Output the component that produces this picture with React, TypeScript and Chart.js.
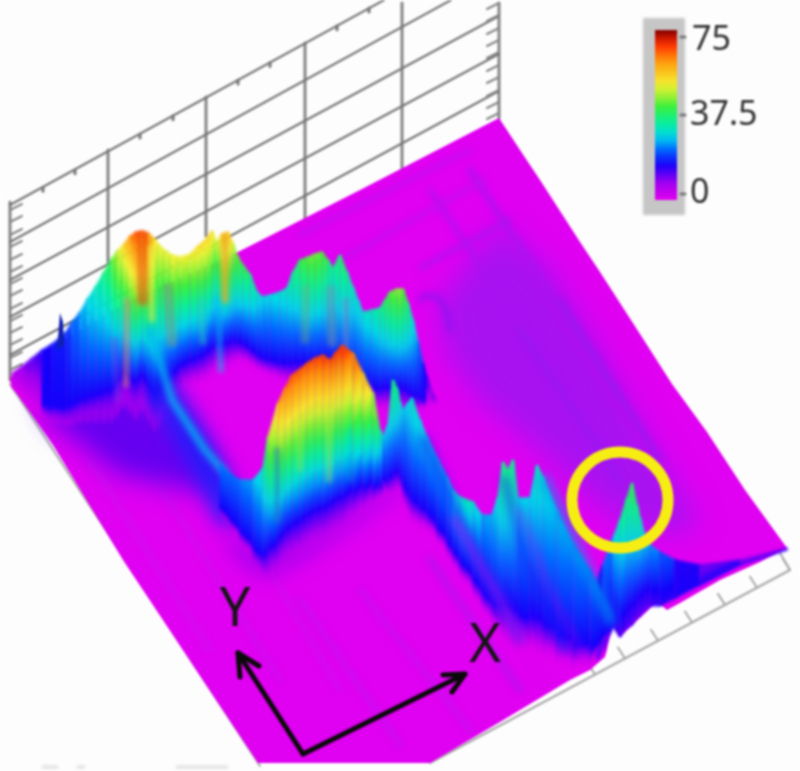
import React, { useEffect, useRef } from "react";
import { Chart, registerables } from "chart.js";

// ---------- readings from the picture (image units: x 0-800, y 0-771) ----------
const wallVerticalX = [10, 108, 206, 305, 402, 499];
const wallVerticalTop = [202, 150, 97, 43, 3, 3];
const wallVerticalBottom = [380, 262, 236, 222, 172, 118];
const wallSlantStartY = [205, 242, 280, 317, 355];
const wallSlantEndX = [384, 451, 499, 499, 499];
const wallSlantEndY = [0, 0, 16, 54, 91];
const leftTickY = [210, 222, 235, 247, 260, 272, 284, 296, 309, 321, 333, 345, 358, 370];
const rightTickY = [3, 15, 28, 40, 52, 65, 77, 90, 102, 113];
const topTickX = [43, 75, 140, 173, 238, 270, 337, 369];
const floorTickX = [790, 757, 725, 692, 658, 625, 595];
const scanSmudges = [[43, 767, 57, 767], [78, 767, 84, 767], [177, 767, 227, 767]];

const surfaceX = [499, 520, 540, 580, 600, 640, 672, 707, 745, 787, 760, 720, 680, 667, 657, 645, 625, 620, 612, 607, 605, 590, 570, 500, 430, 258, 123, 53, 12, 10, 60, 130, 238, 360, 499];
const surfaceY = [118, 150, 180, 242, 272, 334, 384, 432, 490, 548, 562, 580, 603, 610, 602, 613, 632, 637, 625, 650, 657, 670, 680, 722, 763, 763, 560, 445, 387, 378, 342, 300, 252, 190, 118];
const purpleZoneX = [440, 500, 550, 600, 650, 700, 670, 610, 540, 480, 445];
const purpleZoneY = [300, 225, 270, 350, 440, 525, 535, 515, 450, 400, 350];
const backSkirtX = [40, 60, 130, 185, 225, 190, 120, 75, 48];
const backSkirtY = [392, 380, 390, 425, 490, 490, 475, 440, 420];
const frontSkirtX = [225, 262, 300, 390, 410, 380, 300, 262, 235];
const frontSkirtY = [530, 560, 545, 490, 485, 505, 560, 575, 555];

const backRidgeX = [12, 22, 32, 42, 52, 66, 72, 80, 88, 96, 104, 112, 118, 124, 130, 136, 142, 148, 154, 160, 166, 172, 180, 190, 198, 205, 212, 217, 222, 228, 233, 237, 243, 250, 257, 263, 270, 280, 287, 293, 300, 308, 315, 322, 328, 333, 340, 347, 353, 358, 363, 372, 380, 385, 390, 397, 403, 408, 413, 418, 423, 427, 432, 438];
const backRidgeTop = [373, 366, 358, 350, 344, 332, 322, 312, 298, 286, 272, 258, 250, 244, 236, 232, 231, 233, 238, 246, 251, 255, 257, 254, 246, 240, 231, 242, 234, 232, 243, 255, 265, 274, 292, 297, 295, 292, 288, 272, 260, 257, 254, 252, 260, 268, 255, 272, 287, 300, 312, 310, 308, 300, 292, 289, 289, 303, 320, 342, 363, 377, 392, 402];
const backRidgeBase = [388, 400, 412, 420, 425, 428, 428, 425, 425, 425, 425, 425, 418, 408, 415, 425, 412, 425, 435, 430, 415, 408, 395, 390, 388, 385, 380, 372, 375, 372, 368, 365, 365, 368, 372, 375, 378, 382, 385, 388, 390, 392, 392, 392, 392, 396, 400, 402, 405, 405, 405, 408, 412, 412, 414, 415, 415, 415, 415, 412, 410, 408, 406, 404];
const backRidgeLevel = [0.06, 0.12, 0.16, 0.2, 0.22, 0.24, 0.28, 0.33, 0.38, 0.42, 0.47, 0.55, 0.66, 0.72, 0.84, 0.88, 0.9, 0.86, 0.7, 0.68, 0.66, 0.68, 0.68, 0.68, 0.72, 0.72, 0.74, 0.6, 0.76, 0.78, 0.66, 0.58, 0.54, 0.5, 0.42, 0.38, 0.38, 0.4, 0.42, 0.48, 0.52, 0.58, 0.58, 0.58, 0.52, 0.45, 0.52, 0.48, 0.42, 0.4, 0.4, 0.43, 0.46, 0.52, 0.56, 0.6, 0.6, 0.5, 0.42, 0.32, 0.25, 0.18, 0.14, 0.11];

const frontRidgeX = [220, 230, 240, 253, 263, 268, 278, 285, 292, 300, 307, 315, 323, 330, 336, 342, 353, 363, 373, 380, 384];
const frontRidgeTop = [465, 474, 480, 480, 468, 437, 403, 388, 375, 369, 363, 358, 355, 360, 352, 345, 353, 373, 393, 430, 437];
const frontRidgeBase = [517, 530, 542, 564, 582, 582, 577, 570, 566, 562, 557, 552, 549, 544, 540, 537, 527, 517, 509, 502, 497];
const frontRidgeLevel = [0.3, 0.3, 0.3, 0.35, 0.42, 0.6, 0.78, 0.85, 0.88, 0.88, 0.88, 0.9, 0.9, 0.89, 0.91, 0.92, 0.88, 0.8, 0.68, 0.5, 0.4];

const sideRidgeX = [383, 388, 393, 397, 400, 403, 408, 412, 420, 427, 437, 447, 453, 460, 473, 482, 492, 498, 503, 508, 513, 518, 530, 537, 543, 557, 573, 590, 603, 613];
const sideRidgeTop = [437, 425, 380, 388, 402, 410, 403, 398, 420, 437, 458, 477, 490, 497, 502, 515, 515, 497, 462, 470, 460, 498, 498, 465, 477, 510, 543, 570, 595, 612];
const sideRidgeBase = [490, 498, 498, 496, 490, 505, 517, 526, 530, 532, 542, 557, 567, 577, 597, 612, 627, 637, 642, 644, 647, 647, 652, 657, 660, 665, 670, 668, 654, 625];
const sideRidgeLevel = [0.35, 0.4, 0.5, 0.48, 0.42, 0.36, 0.38, 0.42, 0.38, 0.37, 0.35, 0.34, 0.37, 0.42, 0.42, 0.34, 0.34, 0.4, 0.5, 0.46, 0.5, 0.38, 0.36, 0.43, 0.4, 0.36, 0.33, 0.3, 0.27, 0.24];

const conePeakX = [597, 603, 613, 620, 627, 632, 637, 640, 645, 650, 660, 675, 700, 740, 787];
const conePeakTop = [580, 565, 538, 520, 498, 483, 505, 518, 535, 545, 552, 560, 565, 560, 548];
const conePeakBase = [660, 650, 627, 637, 628, 625, 618, 616, 611, 606, 606, 598, 585, 565, 550];
const conePeakLevel = [0.2, 0.25, 0.37, 0.45, 0.5, 0.52, 0.5, 0.45, 0.38, 0.34, 0.3, 0.24, 0.16, 0.13, 0.11];
const conePeakFoot = [0.18, 0.18, 0.18, 0.17, 0.16, 0.16, 0.15, 0.15, 0.15, 0.16, 0.18, 0.2, 0.21, 0.2, 0.16];

const leftSpikeX = [57, 60, 63, 64];
const leftSpikeY = [350, 313, 322, 345];

const softPaths = [
  [300, 600, 400, 745], [240, 520, 340, 690], [360, 590, 470, 730], [430, 560, 520, 690], [90, 460, 210, 650],
  [150, 470, 280, 680], [470, 170, 620, 400], [430, 190, 560, 385], [300, 235, 470, 150], [340, 260, 485, 180],
  [420, 268, 510, 220], [560, 300, 660, 460], [520, 330, 620, 480],
];
const softWidths = [6, 5, 6, 7, 6, 5, 5, 4, 4, 4, 4, 5, 5];
const softColors = ["#cc0cf0", "#d00cf0", "#cc0cf0", "#c00cf0", "#d40cf0", "#d00cf0", "#a814f0", "#a814f0", "#c010f0", "#c010f0", "#a814f0", "#9818f0", "#9818f0"];

const backStreakPaths = [
  [143, 238, 143, 300], [127, 300, 126, 385], [114, 340, 118, 400], [151, 248, 152, 320], [168, 288, 172, 342],
  [225, 238, 225, 300], [201, 300, 203, 342], [217, 300, 221, 370], [331, 290, 332, 342], [346, 300, 346, 356], [306, 288, 305, 340],
];
const backStreakWidths = [12, 6, 6, 5, 10, 7, 6, 6, 10, 5, 8];
const backStreakColors = ["rgba(235,80,10,.6)", "rgba(235,140,110,.55)", "rgba(120,60,230,.4)", "rgba(240,240,60,.65)", "rgba(130,150,130,.5)", "rgba(235,170,40,.75)", "rgba(40,210,190,.5)", "rgba(0,200,240,.5)", "rgba(110,150,170,.5)", "rgba(130,120,200,.6)", "rgba(120,170,120,.4)"];

const bandPaths = [[165, 395, 205, 460, 228, 510], [150, 330, 172, 400, 205, 450, 226, 474], [420, 300, 426, 295, 438, 297, 446, 310, 450, 330]];
const bandWidths = [32, 7, 5];
const bandSoftness = [9, 3, 3];
const bandColors = ["rgba(20,30,250,.85)", "rgba(0,190,240,.85)", "rgba(90,30,240,.5)"];

const frontStreakPaths = [[300, 420, 300, 470], [329, 410, 329, 480], [277, 450, 277, 520], [350, 430, 350, 480], [400, 440, 401, 482]];
const frontStreakWidths = [5, 6, 6, 5, 4];
const frontStreakColors = ["rgba(200,240,60,.35)", "rgba(200,240,60,.35)", "rgba(40,120,200,.5)", "rgba(0,200,220,.3)", "rgba(190,130,220,.7)"];

const sideStreakPaths = [
  [425, 440, 470, 540, 520, 640], [545, 480, 590, 575, 611, 620], [505, 480, 525, 560, 565, 650], [455, 520, 500, 600, 540, 680], [520, 510, 550, 590, 585, 660],
];
const sideStreakWidths = [10, 12, 8, 8, 6];
const sideStreakColors = ["rgba(20,40,250,.55)", "rgba(0,150,240,.55)", "rgba(30,30,250,.5)", "rgba(220,0,240,.45)", "rgba(220,0,240,.3)"];

const arrowPaths = [
  [303, 754, 238, 653], [240, 677, 238, 653, 259, 666],
  [303, 754, 465, 674], [443, 675, 465, 674, 452, 692],
];
const circleCenter = [620, 500];
const axisLetters = ["X", "Y"];
const axisLetterX = [485, 235];
const axisLetterY = [647, 611];
const colorbarLabels = ["75", "37.5", "0"];
const colorbarLabelX = [692, 690, 690];
const colorbarLabelY = [40, 115, 193];
const colorbarTickY = [37, 115, 194];

const COLOR_LEVELS = [0, 0.1, 0.21, 0.3, 0.37, 0.46, 0.55, 0.62, 0.68, 0.82, 0.92, 1];
const COLOR_VALUES = [[226, 0, 240], [160, 0, 240], [20, 0, 250], [0, 110, 255], [0, 215, 235], [10, 240, 150], [60, 240, 60], [170, 240, 50], [245, 240, 50], [255, 150, 10], [255, 40, 0], [130, 0, 0]];

function colorAt(t: number, alpha = 1) {
  const v = Math.max(0, Math.min(1, t));
  let i = 0;
  while (i < COLOR_LEVELS.length - 2 && v > COLOR_LEVELS[i + 1]) i++;
  const f = (v - COLOR_LEVELS[i]) / (COLOR_LEVELS[i + 1] - COLOR_LEVELS[i]);
  const a = COLOR_VALUES[i];
  const b = COLOR_VALUES[i + 1];
  return `rgba(${a.map((c, k) => Math.round(c + (b[k] - c) * f)).join(",")},${alpha})`;
}

const softEdge = {
  id: "softEdge",
  beforeDatasetDraw(chart: any, args: any) {
    const b = chart.data.datasets[args.index].softness;
    if (b) chart.ctx.filter = `blur(${b}px)`;
  },
  afterDatasetDraw(chart: any) {
    chart.ctx.filter = "none";
  },
};
Chart.register(softEdge, ...registerables);

function pairs(p: number[]) {
  const out = [];
  for (let i = 0; i + 1 < p.length; i += 2) out.push({ x: p[i], y: p[i + 1] });
  return out;
}
function zip(xs: number[], ys: number[]) {
  return xs.map((x, i) => ({ x, y: ys[i] }));
}
function stroke(p: number[], color: string, width: number, softness = 0) {
  return { data: pairs(p), borderColor: color, borderWidth: width, showLine: true, fill: false, pointRadius: 0, softness, borderCapStyle: "round", borderJoinStyle: "round", tension: 0 };
}
function shape(data: any[], color: any, softness = 0, border = 0) {
  return { data, backgroundColor: color, borderColor: color, borderWidth: border, showLine: true, fill: "shape", pointRadius: 0, softness, tension: 0 };
}
function toPixel(axis: any, v: number) {
  const p = axis ? axis.getPixelForValue(v) : NaN;
  return Number.isFinite(p) ? p : v;
}
const FOOT_SHARE = 0.22;
function sliceGradient(c: any, xMid: number, topY: number, baseY: number, slope: number, level: number, foot: number | null) {
  const s = Math.max(-0.9, Math.min(0.9, slope));
  const k2 = (baseY - topY) / (1 + s * s);
  const endX = xMid + s * k2;
  const endY = baseY - k2;
  const { x: xs, y: ys } = c.chart.scales;
  const g = c.chart.ctx.createLinearGradient(toPixel(xs, xMid), toPixel(ys, baseY), toPixel(xs, endX), toPixel(ys, endY));
  for (let k = 0; k <= 14; k++) {
    const f = k / 14;
    let t;
    if (foot !== null) t = foot + (level - foot) * f;
    else if (level <= 0.21) t = level * f;
    else t = f < FOOT_SHARE ? (0.21 * f) / FOOT_SHARE : 0.21 + ((level - 0.21) * (f - FOOT_SHARE)) / (1 - FOOT_SHARE);
    const alpha = foot !== null ? 1 : Math.min(1, f / 0.16);
    g.addColorStop(f, colorAt(t, Number(alpha.toFixed(3))));
  }
  return g;
}
function ridge(xs: number[], tops: number[], bases: number[], levels: number[], feet?: number[]) {
  const out = [];
  for (let i = 0; i + 1 < xs.length; i++) {
    const data = [
      { x: xs[i], y: tops[i] }, { x: xs[i + 1], y: tops[i + 1] },
      { x: xs[i + 1], y: bases[i + 1] }, { x: xs[i], y: bases[i] }, { x: xs[i], y: tops[i] },
    ];
    const xMid = (xs[i] + xs[i + 1]) / 2;
    const topY = (tops[i] + tops[i + 1]) / 2;
    const baseY = (bases[i] + bases[i + 1]) / 2;
    const slope = (bases[i + 1] - bases[i]) / (xs[i + 1] - xs[i]);
    const level = (levels[i] + levels[i + 1]) / 2;
    const foot = feet ? (feet[i] + feet[i + 1]) / 2 : null;
    out.push(shape(data, (c: any) => sliceGradient(c, xMid, topY, baseY, slope, level, foot), 0.8, 1));
  }
  return out;
}
function strokes(paths: number[][], widths: number[], colors: string[], softness: number | number[]) {
  return paths.map((p, i) => stroke(p, colors[i], widths[i], Array.isArray(softness) ? softness[i] : softness));
}
function buildDatasets() {
  const ds: any[] = [];
  wallVerticalX.forEach((x, i) => ds.push(stroke([x, wallVerticalTop[i], x, wallVerticalBottom[i]], "#858585", 3)));
  wallSlantStartY.forEach((y, i) => ds.push(stroke([10, y, wallSlantEndX[i], wallSlantEndY[i]], "#747474", 2)));
  leftTickY.forEach((y) => ds.push(stroke([10, y, 22, y - 6], "#858585", 2)));
  rightTickY.forEach((y) => ds.push(stroke([499, y, 487, y + 6], "#858585", 2)));
  topTickX.forEach((x) => ds.push(stroke([x, 211 - 0.55 * x, x, 215 - 0.55 * x], "#777777", 3)));
  scanSmudges.forEach((p) => ds.push(stroke(p, "#dedede", 3, 1)));
  ds.push(stroke([10, 384, 260, 766], "#a8a8a8", 2));
  ds.push(stroke([790, 570, 430, 763], "#a8a8a8", 2));
  ds.push(stroke([790, 570, 780, 553], "#a8a8a8", 2));
  floorTickX.forEach((x) => ds.push(stroke([x, 570 + (790 - x) * 0.536, x - 7, 559 + (790 - x) * 0.536], "#a8a8a8", 2)));

  ds.push(shape(zip(surfaceX, surfaceY), "#e000f2"));
  ds.push(shape(zip(purpleZoneX, purpleZoneY), "rgba(130,30,240,.6)", 14));
  ds.push(...strokes(softPaths, softWidths, softColors, 3));

  ds.push(shape(zip(backSkirtX, backSkirtY), "rgba(70,0,240,.8)", 13));
  ds.push(...ridge(backRidgeX, backRidgeTop, backRidgeBase, backRidgeLevel));
  ds.push(shape(zip(leftSpikeX, leftSpikeY), "#1020b0", 0.5));
  ds.push(...strokes(backStreakPaths, backStreakWidths, backStreakColors, 2));
  ds.push(...strokes(bandPaths, bandWidths, bandColors, bandSoftness));
  ds.push(...ridge(conePeakX, conePeakTop, conePeakBase, conePeakLevel, conePeakFoot));
  ds.push(shape(zip(frontSkirtX, frontSkirtY), "rgba(110,0,240,.7)", 10));
  ds.push(...ridge(frontRidgeX, frontRidgeTop, frontRidgeBase, frontRidgeLevel));
  ds.push(...strokes(frontStreakPaths, frontStreakWidths, frontStreakColors, 2));
  ds.push(...ridge(sideRidgeX, sideRidgeTop, sideRidgeBase, sideRidgeLevel));
  ds.push(...strokes(sideStreakPaths, sideStreakWidths, sideStreakColors, 4));

  ds.push({ data: [{ x: circleCenter[0], y: circleCenter[1] }], pointRadius: 48, pointBorderWidth: 11, pointBorderColor: "#f6ee12", pointBackgroundColor: "rgba(0,0,0,0)", showLine: false });
  arrowPaths.forEach((p) => ds.push(stroke(p, "#0a0a0a", 5)));

  ds.push(shape(pairs([643, 18, 685, 18, 685, 215, 643, 215, 643, 18]), "#c6c6c6", 1));
  ds.push(shape(pairs([655, 30, 677, 30, 677, 200, 655, 200, 655, 30]), (c: any) => {
    const y = c.chart.scales.y;
    const g = c.chart.ctx.createLinearGradient(0, toPixel(y, 200), 0, toPixel(y, 30));
    for (let k = 0; k <= 20; k++) g.addColorStop(k / 20, colorAt(k / 20));
    return g;
  }));
  colorbarTickY.forEach((y) => ds.push(stroke([681, y, 685, y], "#777777", 3)));
  ds.forEach((d, i) => { d.order = ds.length - i; });
  return ds;
}

const textPlugin = {
  id: "chartText",
  afterDatasetsDraw(chart: any) {
    const { ctx, scales } = chart;
    ctx.save();
    ctx.textBaseline = "middle";
    ctx.textAlign = "center";
    ctx.fillStyle = "#141414";
    ctx.font = "54px 'Noto Sans'";
    axisLetters.forEach((s, i) => ctx.fillText(s, scales.x.getPixelForValue(axisLetterX[i]), scales.y.getPixelForValue(axisLetterY[i])));
    ctx.textAlign = "left";
    ctx.fillStyle = "#303030";
    ctx.font = "34px 'Noto Sans'";
    colorbarLabels.forEach((s, i) => ctx.fillText(s, scales.x.getPixelForValue(colorbarLabelX[i]), scales.y.getPixelForValue(colorbarLabelY[i])));
    ctx.restore();
  },
};

export default function App() {
  const ref = useRef<HTMLCanvasElement>(null);
  useEffect(() => {
    const chart = new Chart(ref.current as HTMLCanvasElement, {
      type: "scatter",
      data: { datasets: buildDatasets() },
      options: {
        animation: false,
        responsive: false,
        events: [],
        layout: { padding: 0, autoPadding: false },
        plugins: { legend: { display: false }, tooltip: { enabled: false } },
        scales: {
          x: { type: "linear", min: 0, max: 800, display: false },
          y: { type: "linear", min: 0, max: 771, reverse: true, display: false },
        },
      },
      plugins: [textPlugin],
    } as any);
    return () => chart.destroy();
  }, []);
  return (
    <canvas
      ref={ref}
      width={800}
      height={771}
      style={{ position: "fixed", left: 0, top: 0, width: 800, height: 771, display: "block", background: "#fdfdfd", filter: "blur(0.8px)" }}
    />
  );
}
